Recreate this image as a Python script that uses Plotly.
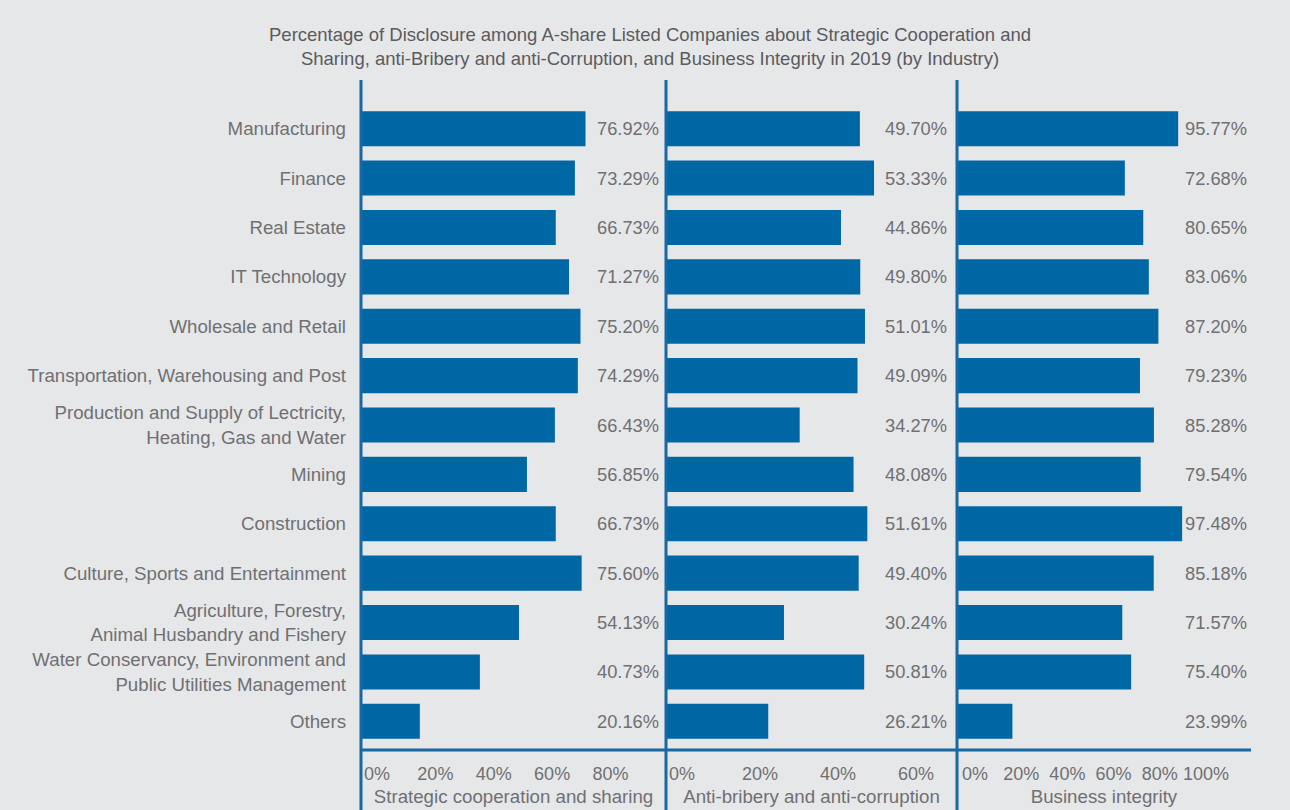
import plotly.graph_objects as go

# Industries, top to bottom
industries = [
    "Manufacturing",
    "Finance",
    "Real Estate",
    "IT Technology",
    "Wholesale and Retail",
    "Transportation, Warehousing and Post",
    "Production and Supply of Lectricity,<br>Heating, Gas and Water",
    "Mining",
    "Construction",
    "Culture, Sports and Entertainment",
    "Agriculture, Forestry,<br>Animal Husbandry and Fishery",
    "Water Conservancy, Environment and<br>Public Utilities Management",
    "Others",
]

strategic_cooperation = [76.92, 73.29, 66.73, 71.27, 75.20, 74.29, 66.43, 56.85, 66.73, 75.60, 54.13, 40.73, 20.16]
anti_bribery = [49.70, 53.33, 44.86, 49.80, 51.01, 49.09, 34.27, 48.08, 51.61, 49.40, 30.24, 50.81, 26.21]
business_integrity = [95.77, 72.68, 80.65, 83.06, 87.20, 79.23, 85.28, 79.54, 97.48, 85.18, 71.57, 75.40, 23.99]

panel_titles = ["Strategic cooperation and sharing", "Anti-bribery and anti-corruption", "Business integrity"]
panel_ticks = [[0, 20, 40, 60, 80], [0, 20, 40, 60], [0, 20, 40, 60, 80, 100]]
panel_ranges = [[0, 104.5], [0, 74.6], [0, 127.3]]

title_lines = [
    "Percentage of Disclosure among A-share Listed Companies about Strategic Cooperation and",
    "Sharing, anti-Bribery and anti-Corruption, and Business Integrity in 2019 (by Industry)",
]

BAR = "#0067a5"
LINE = "#1769a6"
BG = "#e6e7e9"
TXT = "#6f7072"
FONT = "Liberation Sans, Arial, sans-serif"

W, H = 1290, 810
ML, MR, MT, MB = 361, 39, 104, 64
plot_w = W - ML - MR
plot_h = H - MT - MB
edges_px = [361, 666, 957, 1251]
domains = [[(edges_px[i] - ML) / plot_w, (edges_px[i + 1] - ML) / plot_w] for i in range(3)]
label_shift = [-5, -8, -2]
tick_shift = [16, 16, 18]


def px_x(px):
    return (px - ML) / plot_w


def px_y(px):
    return (H - MB - px) / plot_h


fig = go.Figure()
series = [strategic_cooperation, anti_bribery, business_integrity]
for i, vals in enumerate(series):
    xa = "x" if i == 0 else f"x{i + 1}"
    fig.add_trace(go.Bar(
        x=vals, y=industries, orientation="h", xaxis=xa, yaxis="y",
        marker=dict(color=BAR, line=dict(width=0)), showlegend=False,
        hoverinfo="x+y",
    ))
    # value labels, right-aligned against the panel edge
    for cat, v in zip(industries, vals):
        fig.add_annotation(
            x=1, xref=f"{xa} domain", y=cat, yref="y",
            text=f"{v:.2f}%", showarrow=False, xanchor="right", xshift=label_shift[i],
            font=dict(family=FONT, size=18.3, color=TXT),
        )

layout_axes = {}
for i in range(3):
    key = "xaxis" if i == 0 else f"xaxis{i + 1}"
    layout_axes[key] = dict(
        domain=domains[i], range=panel_ranges[i], anchor="y",
        tickvals=panel_ticks[i], ticktext=[f"{t}%" for t in panel_ticks[i]],
        showgrid=False, zeroline=False, showline=False, ticks="",
        ticklabelshift=tick_shift[i], ticklabelstandoff=15,
        tickfont=dict(family=FONT, size=18, color=TXT),
        title=dict(text=panel_titles[i], standoff=6,
                   font=dict(family=FONT, size=18.7, color=TXT)),
        automargin=False,
        fixedrange=True,
    )

fig.update_layout(
    width=W, height=H,
    margin=dict(l=ML, r=MR, t=MT, b=MB),
    paper_bgcolor=BG, plot_bgcolor=BG,
    bargap=0.29,
    yaxis=dict(
        categoryorder="array", categoryarray=industries, autorange="reversed",
        showgrid=False, zeroline=False, showline=False, ticks="",
        ticklabelstandoff=14,
        tickfont=dict(family=FONT, size=18.7, color=TXT),
        automargin=False,
        fixedrange=True,
    ),
    **layout_axes,
)

# figure title as two centred lines
fig.add_annotation(
    x=px_x(650), xref="paper", y=px_y(46), yref="paper",
    text="<br>".join(title_lines), showarrow=False,
    xanchor="center", yanchor="middle", align="center",
    font=dict(family=FONT, size=18.5, color="#5a5b5d"),
)

# panel separators and the shared baseline
for ex in edges_px[:3]:
    fx = px_x(ex)
    fig.add_shape(type="line", xref="paper", yref="paper",
                  x0=fx, x1=fx, y0=px_y(80), y1=px_y(812),
                  line=dict(color=LINE, width=3))
fig.add_shape(type="line", xref="paper", yref="paper",
              x0=0, x1=1, y0=px_y(750), y1=px_y(750),
              line=dict(color=LINE, width=3))

fig.write_html("out.html")
